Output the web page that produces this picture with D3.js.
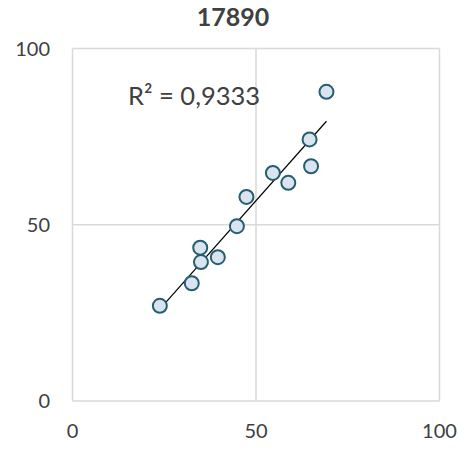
<!DOCTYPE html>
<html>
<head>
<meta charset="utf-8">
<script src="https://cdn.jsdelivr.net/npm/d3@7"></script>
<style>
  html, body { margin: 0; padding: 0; background: #fff; }
  svg { display: block; font-family: Lato, "Open Sans", sans-serif; }
</style>
</head>
<body>
<svg id="chart" width="459" height="450"></svg>
<script>
// Chart title and annotation
const title = "17890";
const r2Label = "R² = 0,9333";

// Observations
const xValues = [23.8, 32.5, 35.0, 34.8, 39.6, 44.8, 47.4, 54.6, 58.8, 64.6, 65.0, 69.2];
const yValues = [27.0, 33.4, 39.4, 43.5, 40.8, 49.6, 57.9, 64.7, 61.9, 74.2, 66.6, 87.7];

// Axis ticks
const xTicks = [0, 50, 100];
const yTicks = [0, 50, 100];

const svg = d3.select("#chart");
const plot = { left: 72.5, right: 439.5, top: 48.5, bottom: 401 };

const x = d3.scaleLinear().domain([0, 100]).range([plot.left, plot.right]);
const y = d3.scaleLinear().domain([0, 100]).range([plot.bottom, plot.top]);

// Gridlines (also frame the plot area)
const grid = svg.append("g").attr("stroke", "#d9d9d9").attr("stroke-width", 1.5);
grid.selectAll("line.v").data(xTicks).join("line")
  .attr("x1", d => x(d)).attr("x2", d => x(d))
  .attr("y1", plot.top).attr("y2", plot.bottom);
grid.selectAll("line.h").data(yTicks).join("line")
  .attr("y1", d => y(d)).attr("y2", d => y(d))
  .attr("x1", plot.left).attr("x2", plot.right);

// Tick labels
svg.append("g").selectAll("text").data(xTicks).join("text")
  .attr("x", d => x(d)).attr("y", 438)
  .attr("text-anchor", "middle")
  .attr("font-size", 20).attr("fill", "#404040")
  .text(d => d);
svg.append("g").selectAll("text").data(yTicks).join("text")
  .attr("x", 50).attr("y", d => y(d))
  .attr("dy", "0.35em")
  .attr("text-anchor", "end")
  .attr("font-size", 20).attr("fill", "#404040")
  .text(d => d);

// Linear least-squares trendline over the data's x range
const n = xValues.length;
const mx = d3.mean(xValues), my = d3.mean(yValues);
let sxy = 0, sxx = 0;
for (let i = 0; i < n; i++) {
  sxy += (xValues[i] - mx) * (yValues[i] - my);
  sxx += (xValues[i] - mx) ** 2;
}
const slope = sxy / sxx, intercept = my - slope * mx;
const [xMin, xMax] = d3.extent(xValues);
svg.append("line")
  .attr("x1", x(xMin)).attr("y1", y(intercept + slope * xMin))
  .attr("x2", x(xMax)).attr("y2", y(intercept + slope * xMax))
  .attr("stroke", "#000").attr("stroke-width", 1.2);

// Markers
svg.append("g").selectAll("circle").data(xValues.map((v, i) => [v, yValues[i]])).join("circle")
  .attr("cx", d => x(d[0])).attr("cy", d => y(d[1]))
  .attr("r", 7)
  .attr("fill", "#dae3f0")
  .attr("stroke", "#255e6e")
  .attr("stroke-width", 2);

// R² annotation
svg.append("text")
  .attr("x", 128).attr("y", 105)
  .attr("font-size", 25.5).attr("fill", "#404040")
  .text(r2Label);

// Title
svg.append("text")
  .attr("x", 233).attr("y", 26)
  .attr("text-anchor", "middle")
  .attr("font-size", 25).attr("font-weight", "bold").attr("fill", "#404040")
  .text(title);
</script>
</body>
</html>
